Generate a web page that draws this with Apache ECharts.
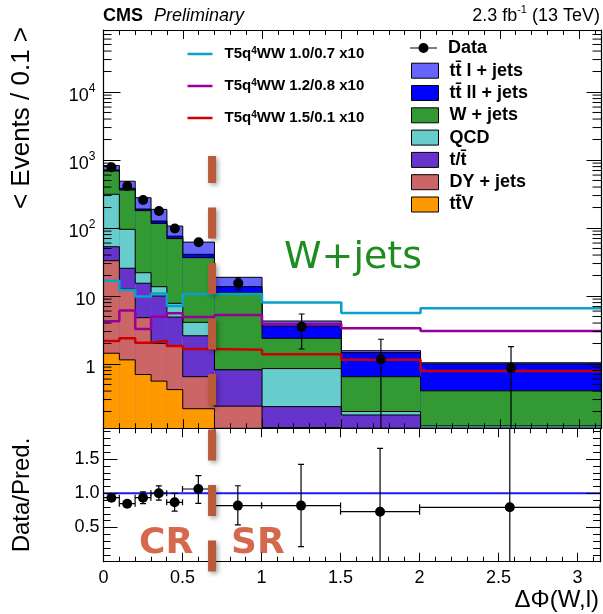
<!DOCTYPE html>
<html>
<head>
<meta charset="utf-8">
<title>dPhi(W,l)</title>
<script src="https://cdn.jsdelivr.net/npm/echarts@6/dist/echarts.min.js"></script>
<style>
  html, body { margin: 0; padding: 0; background: #fff; }
  #chart-dom { width: 603px; height: 614px; }
</style>
</head>
<body>
<div id="chart-dom"></div>
<script>
var chartDom = document.getElementById('chart-dom')
var myChart = echarts.init(chartDom)
window.myChart = myChart

// bin edges of dPhi(W,l)
var binEdges = [0, 0.1, 0.2, 0.3, 0.4, 0.5, 0.7, 1.0, 1.5, 2.0, Math.PI]

// backgrounds, events / 0.1 in each bin
var ttSemiLep = [117, 105, 89, 61, 31, 21, 5.1, 0.67, 0.1, 0.04]
var ttDiLep = [24, 21, 10, 10, 6, 4.4, 2.4, 1.23, 0.82, 0.6]
var wJets = [376, 266, 158, 103, 62, 32.5, 10.5, 1.53, 0.45, 0.28]
var qcd = [260, 70, 6.6, 3.7, 2.9, 1.5, 0, 0.62, 0.022, 0.033]
var singleTop = [20, 12.9, 10.6, 8.0, 3.05, 1.95, 0.58, 0.12, 0.078, 0.04]
var dyJets = [31.6, 11.5, 4.1, 1.44, 1.43, 0.43, 0.18, 0.086, 0.07, 0.03]
var ttV = [1.44, 1.15, 0.70, 0.56, 0.42, 0.22, 0.06, 0.03, 0.03, 0.02]

// signal points (x10)
var sig1007 = [16.7, 12.2, 9.8, 10.9, 7.1, 10.7, 10.7, 8.0, 5.6, 6.6]
var sig1208 = [4.25, 6.1, 3.27, 4.96, 5.56, 4.9, 5.25, 3.87, 3.35, 3.06]
var sig1501 = [2.17, 2.39, 2.06, 2.2, 1.84, 1.66, 1.62, 1.39, 1.15, 0.79]

// data with error bar ends
var dataY = [781, 415, 258, 178, 98, 61.6, 15.4, 3.54, 1.17, 0.87]
var dataLo = [753, 395, 242, 165, 88, 56, 12.5, 1.66, 0.01, 0.01]
var dataHi = [809, 435, 274, 191, 108, 67, 18.6, 5.43, 2.31, 1.8]

// data / prediction
var ratio = [0.936, 0.848, 0.936, 1.0, 0.868, 1.063, 0.82, 0.82, 0.731, 0.795]
var ratioLo = [0.90, 0.81, 0.85, 0.90, 0.74, 0.854, 0.537, 0.22, -1, -1]
var ratioHi = [0.97, 0.89, 1.02, 1.107, 1.0, 1.257, 1.11, 1.424, 1.658, 3]

var dividerX = 0.685

var FONT = 'Liberation Sans'
var yMin = 0.1133
var yMax = 81600
var xMax = Math.PI
var nBins = binEdges.length - 1
var centers = binEdges.slice(0, -1).map(function (e, i) { return (e + binEdges[i + 1]) / 2 })

// legend / stack order, top to bottom
var processes = [
  { name: 'tt\u0304 l + jets', color: '#6666ff', values: ttSemiLep },
  { name: 'tt\u0304 ll + jets', color: '#0000ff', values: ttDiLep },
  { name: 'W + jets', color: '#339933', values: wJets },
  { name: 'QCD', color: '#66cccc', values: qcd },
  { name: 't/t\u0304', color: '#6633cc', values: singleTop },
  { name: 'DY + jets', color: '#cc6666', values: dyJets },
  { name: 'tt\u0304V', color: '#ff9900', values: ttV }
]

var signals = [
  { name: 'T5q4WW 1.0/0.7 x10', color: '#0b9fd0', values: sig1007 },
  { name: 'T5q4WW 1.2/0.8 x10', color: '#990099', values: sig1208 },
  { name: 'T5q4WW 1.5/0.1 x10', color: '#cc0000', values: sig1501 }
]

// cumulative tops, built from the bottom
var running = new Array(nBins).fill(0)
var stacked = processes.slice().reverse().map(function (p) {
  running = running.map(function (r, i) { return r + p.values[i] })
  return { name: p.name, color: p.color, top: running.slice() }
}).reverse()

function renderHist (params, api) {
  var top = Math.max(api.value(2), yMin)
  var prev = Math.max(api.value(3), yMin)
  var bl = api.coord([api.value(0), yMin])
  var tr = api.coord([api.value(1), top])
  var pv = api.coord([api.value(0), prev])
  return {
    type: 'group',
    children: [
      { type: 'rect', shape: { x: bl[0], y: tr[1], width: tr[0] - bl[0], height: bl[1] - tr[1] }, style: { fill: api.visual('color') } },
      { type: 'polyline', shape: { points: [[bl[0], pv[1]], [bl[0], tr[1]], [tr[0], tr[1]]] }, style: { stroke: '#000', lineWidth: 1, fill: 'none' } }
    ]
  }
}

function errorBars (api, withX) {
  var x = api.value(0)
  var c = api.coord([x, api.value(1)])
  var lo = api.coord([x, api.value(2)])
  var hi = api.coord([x, api.value(3)])
  var st = { stroke: '#000', lineWidth: 1.2 }
  var children = [
    { type: 'line', shape: { x1: c[0], y1: lo[1], x2: c[0], y2: hi[1] }, style: st },
    { type: 'line', shape: { x1: c[0] - 3, y1: lo[1], x2: c[0] + 3, y2: lo[1] }, style: st },
    { type: 'line', shape: { x1: c[0] - 3, y1: hi[1], x2: c[0] + 3, y2: hi[1] }, style: st }
  ]
  if (withX) {
    var xl = api.coord([api.value(4), api.value(1)])
    var xr = api.coord([api.value(5), api.value(1)])
    children.push(
      { type: 'line', shape: { x1: xl[0], y1: c[1], x2: xr[0], y2: c[1] }, style: st },
      { type: 'line', shape: { x1: xl[0], y1: c[1] - 3, x2: xl[0], y2: c[1] + 3 }, style: st },
      { type: 'line', shape: { x1: xr[0], y1: c[1] - 3, x2: xr[0], y2: c[1] + 3 }, style: st }
    )
  }
  children.push({ type: 'circle', shape: { cx: c[0], cy: c[1], r: 5 }, style: { fill: '#000' } })
  return { type: 'group', children: children }
}

// minor ticks of the log axis at 2..9 x 10^k
var logMinor = []
for (var k = -1; k <= 4; k++) {
  for (var m = 2; m <= 9; m++) {
    var v = m * Math.pow(10, k)
    if (v > yMin && v < yMax) logMinor.push([0, v])
  }
}

function renderLogTick (params, api) {
  var l = api.coord([0, api.value(1)])
  var r = api.coord([xMax, api.value(1)])
  var st = { stroke: '#000', lineWidth: 1 }
  return {
    type: 'group',
    children: [
      { type: 'line', shape: { x1: l[0], y1: l[1], x2: l[0] + 8, y2: l[1] }, style: st },
      { type: 'line', shape: { x1: r[0] - 9, y1: r[1], x2: r[0], y2: r[1] }, style: st }
    ]
  }
}

function logLabel (val) {
  var lg = Math.log10(val)
  var e = Math.round(lg)
  if (Math.abs(lg - e) > 1e-6) return ''
  if (e === 0) return '{b|1}'
  if (e === 1) return '{b|10}'
  return '{b|10}{s|' + e + '}'
}

function halfStep (val) {
  return Math.abs(val * 2 - Math.round(val * 2)) < 1e-6
}

function xAxisCfg (gridIndex, position, showLabel) {
  return {
    type: 'value',
    gridIndex: gridIndex,
    position: position,
    min: 0,
    max: xMax,
    interval: 0.5,
    z: 12,
    axisLine: { onZero: false, lineStyle: { color: '#000', width: 1.2 } },
    axisTick: { inside: true, length: 9, lineStyle: { color: '#000' } },
    minorTick: { show: true, splitNumber: 5, length: 5, lineStyle: { color: '#000' } },
    splitLine: { show: false },
    axisLabel: {
      show: showLabel,
      margin: 7,
      fontSize: 18,
      fontFamily: FONT,
      color: '#000',
      hideOverlap: false,
      formatter: function (val) { return halfStep(val) ? String(val) : '' }
    }
  }
}

function logAxisCfg (position, showLabel) {
  return {
    type: 'log',
    logBase: 10,
    gridIndex: 0,
    position: position,
    min: yMin,
    max: yMax,
    z: 12,
    axisLine: { onZero: false, lineStyle: { color: '#000', width: 1.2 } },
    axisTick: { inside: true, length: position === 'left' ? 17 : 15, lineStyle: { color: '#000' } },
    splitLine: { show: false },
    axisLabel: {
      show: showLabel,
      margin: 8,
      color: '#000',
      padding: [8, 0, 0, 0],
      formatter: logLabel,
      rich: {
        b: { fontSize: 18, fontFamily: FONT, lineHeight: 26, color: '#000' },
        s: { fontSize: 12, fontFamily: FONT, lineHeight: 12, verticalAlign: 'top', color: '#000' }
      }
    }
  }
}

function ratioAxisCfg (position, showLabel) {
  return {
    type: 'value',
    gridIndex: 1,
    position: position,
    min: 0,
    max: 1.95,
    interval: 0.5,
    z: 12,
    axisLine: { onZero: false, lineStyle: { color: '#000', width: 1.2 } },
    axisTick: { inside: true, length: 14, lineStyle: { color: '#000' } },
    minorTick: { show: true, splitNumber: 5, length: 7, lineStyle: { color: '#000' } },
    splitLine: { show: false },
    axisLabel: {
      show: showLabel,
      margin: 4,
      padding: [4, 0, 0, 0],
      fontSize: 18,
      fontFamily: FONT,
      color: '#000',
      formatter: function (val) { return val > 0 && val < 1.9 && halfStep(val) ? val.toFixed(1) : '' }
    }
  }
}

var series = []

stacked.forEach(function (p, idx) {
  series.push({
    type: 'custom',
    name: p.name,
    xAxisIndex: 0,
    yAxisIndex: 0,
    clip: true,
    silent: true,
    z: 2 + idx,
    itemStyle: { color: p.color },
    encode: { x: [0, 1], y: [2, 3] },
    renderItem: renderHist,
    data: p.top.map(function (t, i) { return [binEdges[i], binEdges[i + 1], t, i > 0 ? p.top[i - 1] : yMin] })
  })
})

signals.forEach(function (s) {
  series.push({
    type: 'line',
    name: s.name,
    xAxisIndex: 0,
    yAxisIndex: 0,
    step: 'end',
    symbol: 'none',
    silent: true,
    z: 10,
    itemStyle: { color: s.color },
    lineStyle: { color: s.color, width: 2.5 },
    data: binEdges.map(function (e, i) { return [e, s.values[Math.min(i, nBins - 1)]] })
  })
})

series.push({
  type: 'custom',
  name: 'ticks',
  xAxisIndex: 0,
  yAxisIndex: 0,
  silent: true,
  z: 11,
  encode: { x: 0, y: 1 },
  renderItem: renderLogTick,
  data: logMinor
})

series.push({
  type: 'custom',
  name: 'Data',
  xAxisIndex: 0,
  yAxisIndex: 0,
  clip: true,
  silent: true,
  z: 14,
  itemStyle: { color: '#000' },
  encode: { x: 0, y: 1 },
  renderItem: function (params, api) { return errorBars(api, false) },
  data: centers.map(function (c, i) { return [c, dataY[i], dataLo[i], dataHi[i]] })
})

series.push({
  type: 'line',
  name: 'unity',
  xAxisIndex: 2,
  yAxisIndex: 2,
  symbol: 'none',
  silent: true,
  z: 10,
  lineStyle: { color: '#1a1aff', width: 2 },
  data: [[0, 1], [xMax, 1]]
})

series.push({
  type: 'custom',
  name: 'ratio',
  xAxisIndex: 2,
  yAxisIndex: 2,
  clip: true,
  silent: true,
  z: 14,
  encode: { x: 0, y: 1 },
  renderItem: function (params, api) { return errorBars(api, true) },
  data: centers.map(function (c, i) { return [c, ratio[i], ratioLo[i], ratioHi[i], binEdges[i], binEdges[i + 1]] })
})

var textGraphics = [
  { type: 'text', x: 103, y: 16, style: { text: 'CMS', font: 'bold 18px ' + FONT, fill: '#000', verticalAlign: 'middle' } },
  { type: 'text', x: 154, y: 16, style: { text: 'Preliminary', font: 'italic 18px ' + FONT, fill: '#000', verticalAlign: 'middle' } },
  {
    type: 'text',
    x: 600,
    y: 16,
    style: {
      text: '{t|2.3 fb}{s|-1}{t| (13 TeV)}',
      align: 'right',
      verticalAlign: 'middle',
      rich: {
        t: { fontSize: 18, fontFamily: FONT, lineHeight: 24, fill: '#000' },
        s: { fontSize: 11, fontFamily: FONT, lineHeight: 11, verticalAlign: 'top', fill: '#000' }
      }
    }
  },
  { type: 'text', x: 22, y: 118, rotation: Math.PI / 2, style: { text: '< Events / 0.1 >', font: '26px ' + FONT, fill: '#000', align: 'center', verticalAlign: 'middle' } },
  { type: 'text', x: 22, y: 495, rotation: Math.PI / 2, style: { text: 'Data/Pred.', font: '24px ' + FONT, fill: '#000', align: 'center', verticalAlign: 'middle' } },
  { type: 'text', x: 599, y: 600, style: { text: '\u0394\u03a6(W,l)', font: '24px ' + FONT, fill: '#000', align: 'right', verticalAlign: 'middle' } },
  { type: 'text', x: 284, y: 258, style: { text: 'W+jets', font: '38px DejaVu Sans', fill: '#1e8c1e', verticalAlign: 'middle' } },
  { type: 'text', x: 139, y: 544, style: { text: 'CR', font: 'bold 36px DejaVu Sans', fill: '#d5694d', verticalAlign: 'middle' } },
  { type: 'text', x: 231, y: 544, style: { text: 'SR', font: 'bold 36px DejaVu Sans', fill: '#d5694d', verticalAlign: 'middle' } }
]

var legendFont = 'Liberation Sans'

var option = {
  animation: false,
  backgroundColor: '#fff',
  textStyle: { fontFamily: FONT },
  grid: [
    { left: 103.5, top: 30, width: 498, height: 398.3 },
    { left: 103.5, top: 428.3, width: 498, height: 133.4 }
  ],
  xAxis: [
    xAxisCfg(0, 'bottom', false),
    xAxisCfg(0, 'top', false),
    xAxisCfg(1, 'bottom', true),
    xAxisCfg(1, 'top', false)
  ],
  yAxis: [
    logAxisCfg('left', true),
    logAxisCfg('right', false),
    ratioAxisCfg('left', true),
    ratioAxisCfg('right', false)
  ],
  legend: [
    {
      data: signals.map(function (s) { return s.name }),
      orient: 'vertical',
      left: 187.5,
      top: 46,
      padding: 0,
      itemWidth: 33,
      itemHeight: 2.5,
      itemGap: 16,
      selectedMode: false,
      icon: 'path://M0,0L10,0L10,1L0,1Z',
      formatter: function (name) { return name.replace('q4WW', 'q{s|4}WW') },
      textStyle: {
        fontFamily: legendFont,
        fontWeight: 'bold',
        color: '#000',
        fontSize: 15,
        lineHeight: 16,
        padding: [0, 0, 0, 3],
        rich: { s: { fontSize: 10, lineHeight: 10, verticalAlign: 'top', fontWeight: 'bold', fontFamily: legendFont } }
      }
    },
    {
      data: ['Data'],
      left: 410,
      top: 39,
      padding: 0,
      itemWidth: 27,
      itemHeight: 10,
      selectedMode: false,
      icon: 'path://M0,4.4L27,4.4L27,5.6L0,5.6Z M8.5,5A5,5 0 1 1 18.5,5A5,5 0 1 1 8.5,5Z',
      textStyle: { fontFamily: legendFont, fontWeight: 'bold', color: '#000', fontSize: 18, lineHeight: 18, padding: [0, 0, 0, 6] }
    },
    {
      data: processes.map(function (p) { return p.name }),
      orient: 'vertical',
      left: 411,
      top: 61.7,
      padding: 0,
      itemWidth: 27,
      itemHeight: 15,
      itemGap: 4.3,
      selectedMode: false,
      icon: 'rect',
      itemStyle: { borderColor: '#000', borderWidth: 1 },
      textStyle: { fontFamily: legendFont, fontWeight: 'bold', color: '#000', fontSize: 18, lineHeight: 18, padding: [0, 0, 0, 6] }
    }
  ],
  graphic: textGraphics,
  series: series
}

myChart.setOption(option)

// dashed CR / SR divider, placed at dividerX on the shared x scale
var xDiv = myChart.convertToPixel({ xAxisIndex: 0 }, dividerX)
myChart.setOption({
  graphic: textGraphics.concat([{
    type: 'line',
    z: 50,
    shape: { x1: xDiv, y1: 156, x2: xDiv, y2: 576 },
    style: {
      stroke: '#b95a3a',
      lineWidth: 8,
      lineDash: [31, 24.5],
      lineDashOffset: 4,
      shadowBlur: 5,
      shadowColor: 'rgba(0,0,0,0.35)',
      shadowOffsetX: 2,
      shadowOffsetY: 2
    }
  }])
})
</script>
</body>
</html>
